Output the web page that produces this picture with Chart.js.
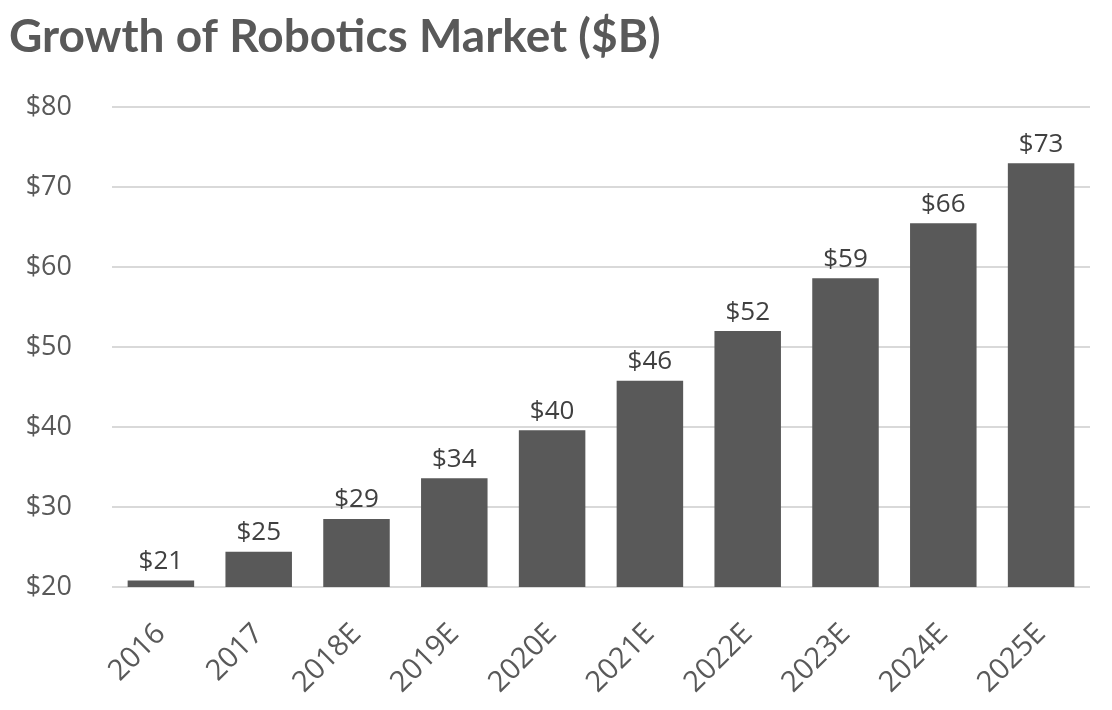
<!DOCTYPE html>
<html>
<head>
<meta charset="utf-8">
<script src="https://cdn.jsdelivr.net/npm/chart.js@4.4.1/dist/chart.umd.min.js"></script>
<style>
  html, body { margin: 0; padding: 0; background: #fff; }
  #wrap { width: 1112px; height: 710px; position: relative; }
</style>
</head>
<body>
<div id="wrap"><canvas id="myChart"></canvas></div>
<script>
// values ($B)
var years = ['2016', '2017', '2018E', '2019E', '2020E', '2021E', '2022E', '2023E', '2024E', '2025E'];
var market = [20.8, 24.4, 28.5, 33.6, 39.6, 45.8, 52.0, 58.6, 65.5, 73.0];
var labelText = ['$21', '$25', '$29', '$34', '$40', '$46', '$52', '$59', '$66', '$73'];
var yMin = 20, yMax = 80, yStep = 10;

// draws the "$xx" text above each bar
var barLabels = {
    id: 'barLabels',
    afterDatasetsDraw: function(chart) {
        var ctx = chart.ctx;
        var meta = chart.getDatasetMeta(0);
        ctx.save();
        ctx.font = '26px "Open Sans"';
        ctx.fillStyle = '#404040';
        ctx.textAlign = 'center';
        ctx.textBaseline = 'bottom';
        meta.data.forEach(function(bar, i) {
            ctx.fillText(labelText[i], bar.x, bar.y - 6);
        });
        ctx.restore();
    }
};

var ctx = document.getElementById('myChart').getContext('2d');
var myChart = new Chart(ctx, {
    type: 'bar',
    data: {
        labels: years,
        datasets: [{
            data: market,
            backgroundColor: '#595959',
            categoryPercentage: 1.0,
            barPercentage: 0.68
        }]
    },
    options: {
        responsive: true,
        maintainAspectRatio: false,
        animation: false,
        layout: { padding: { left: 9, right: 22, top: 2, bottom: 0 } },
        plugins: {
            legend: { display: false },
            tooltip: { enabled: false },
            title: {
                display: true,
                text: 'Growth of Robotics Market ($B)',
                align: 'start',
                color: '#595959',
                font: { family: 'Lato', size: 46, weight: 'bold' },
                padding: { top: 8, bottom: 42 }
            }
        },
        scales: {
            x: {
                grid: { display: false },
                border: { display: false },
                afterFit: function(axis) { axis.height = 123; },
                ticks: {
                    color: '#595959',
                    font: { family: "'Open Sans'", size: 29 },
                    minRotation: 45,
                    maxRotation: 45,
                    padding: 22
                }
            },
            y: {
                min: yMin,
                max: yMax,
                border: { display: false },
                grid: { color: '#d9d9d9', lineWidth: 2, drawTicks: false },
                afterFit: function(axis) { axis.width = 103; },
                ticks: {
                    stepSize: yStep,
                    color: '#595959',
                    font: { family: "'Open Sans'", size: 27 },
                    padding: 40,
                    callback: function(v) { return '$' + v; }
                }
            }
        }
    },
    plugins: [barLabels]
});
</script>
</body>
</html>
